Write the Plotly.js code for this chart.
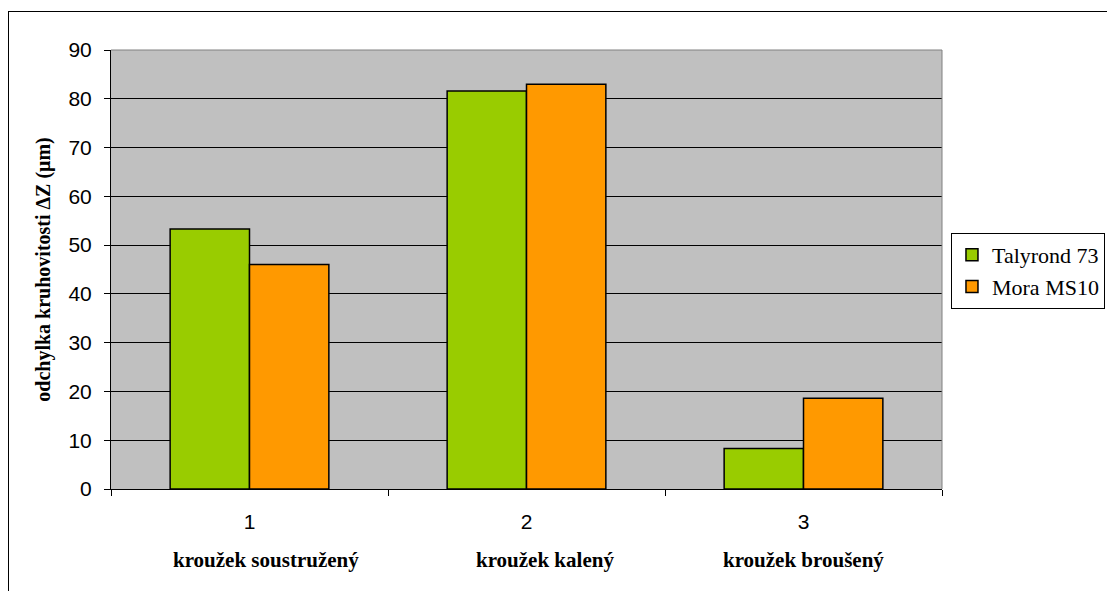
<!DOCTYPE html>
<html>
<head>
<meta charset="utf-8">
<script src="https://cdn.plot.ly/plotly-3.0.1.min.js"></script>
<style>
  html, body { margin: 0; padding: 0; background: #fff; overflow: hidden; }
  #wrap { position: relative; width: 1107px; height: 591px; overflow: hidden; }
  #chart { position: absolute; left: 0; top: 0; width: 1107px; height: 591px; }
  #frame { position: absolute; left: 8px; top: 11px; width: 1300px; height: 800px;
           border: 1px solid #000; pointer-events: none; }
</style>
</head>
<body>
<div id="wrap">
  <div id="chart"></div>
  <div id="frame"></div>
</div>
<script>
// Sample numbers on the x axis and the ring description under each
const categories = ['1', '2', '3'];
const ringNames = ['kroužek soustružený', 'kroužek kalený', 'kroužek broušený'];
// Roundness deviation ΔZ (µm) measured by each instrument
const talyrond73 = [53.3, 81.6, 8.3];
const moraMS10 = [46.0, 83.0, 18.6];
const seriesNames = ['Talyrond 73', 'Mora MS10'];
const yTickValues = [0, 10, 20, 30, 40, 50, 60, 70, 80, 90];

const SANS = 'Liberation Sans, Arial, sans-serif';
const SERIF = 'Liberation Serif, Times New Roman, serif';

const traces = [
  {
    type: 'bar', name: seriesNames[0], x: categories, y: talyrond73,
    marker: { color: '#99CC00', line: { color: '#000', width: 1.5 } },
    hoverinfo: 'skip'
  },
  {
    type: 'bar', name: seriesNames[1], x: categories, y: moraMS10,
    marker: { color: '#FF9900', line: { color: '#000', width: 1.5 } },
    hoverinfo: 'skip'
  }
];

// Ring descriptions under the tick numbers; on a category axis the
// annotation position is the category's index (small manual nudges)
const nameShift = [16, 18, 0];
const annotations = ringNames.map((t, i) => ({
  xref: 'x', yref: 'paper', x: categories.indexOf(categories[i]), y: -0.162,
  xanchor: 'center', yanchor: 'middle', xshift: nameShift[i],
  text: '<b>' + t + '</b>', showarrow: false,
  font: { family: SERIF, size: 21, color: '#000' }
}));

const layout = {
  width: 1107, height: 591,
  margin: { l: 111, r: 165, t: 50, b: 102, autoexpand: false },
  paper_bgcolor: 'rgba(0,0,0,0)',
  plot_bgcolor: '#C0C0C0',
  barmode: 'group', bargap: 0.427, bargroupgap: 0,
  showlegend: true,
  legend: {
    x: 1.0108, y: 0.583, xanchor: 'left', yanchor: 'top',
    bgcolor: '#fff', bordercolor: '#000', borderwidth: 1,
    font: { family: SERIF, size: 22, color: '#000' },
    tracegroupgap: 0
  },
  xaxis: {
    type: 'category', showgrid: false,
    range: [-0.5, categories.length - 0.5],
    showline: true, linecolor: '#000', linewidth: 1,
    ticks: 'outside', tickson: 'boundaries', ticklen: 6, tickcolor: '#000',
    tickfont: { family: SANS, size: 21, color: '#000' },
    ticklabelstandoff: 14,
    fixedrange: true
  },
  yaxis: {
    range: [0, 90], tickvals: yTickValues, ticktext: yTickValues.map(String),
    showgrid: true, gridcolor: '#000', gridwidth: 1,
    showline: true, linecolor: '#000', linewidth: 1,
    ticks: 'outside', ticklen: 6, tickcolor: '#000',
    tickfont: { family: SANS, size: 21, color: '#000' },
    ticklabelstandoff: 8,
    zeroline: false,
    title: {
      text: '<b>odchylka kruhovitosti ΔZ (μm)</b>',
      font: { family: SERIF, size: 20, color: '#000' },
      standoff: 12
    },
    fixedrange: true
  },
  shapes: [
    // grey plot-area border on the top and right sides
    { type: 'line', xref: 'paper', yref: 'paper', x0: 0, x1: 1, y0: 1, y1: 1,
      line: { color: '#808080', width: 1 }, layer: 'above' },
    { type: 'line', xref: 'paper', yref: 'paper', x0: 1, x1: 1, y0: 0, y1: 1,
      line: { color: '#808080', width: 1 }, layer: 'above' }
  ],
  annotations: annotations
};

Plotly.newPlot('chart', traces, layout, { staticPlot: true, displayModeBar: false });
</script>
</body>
</html>
